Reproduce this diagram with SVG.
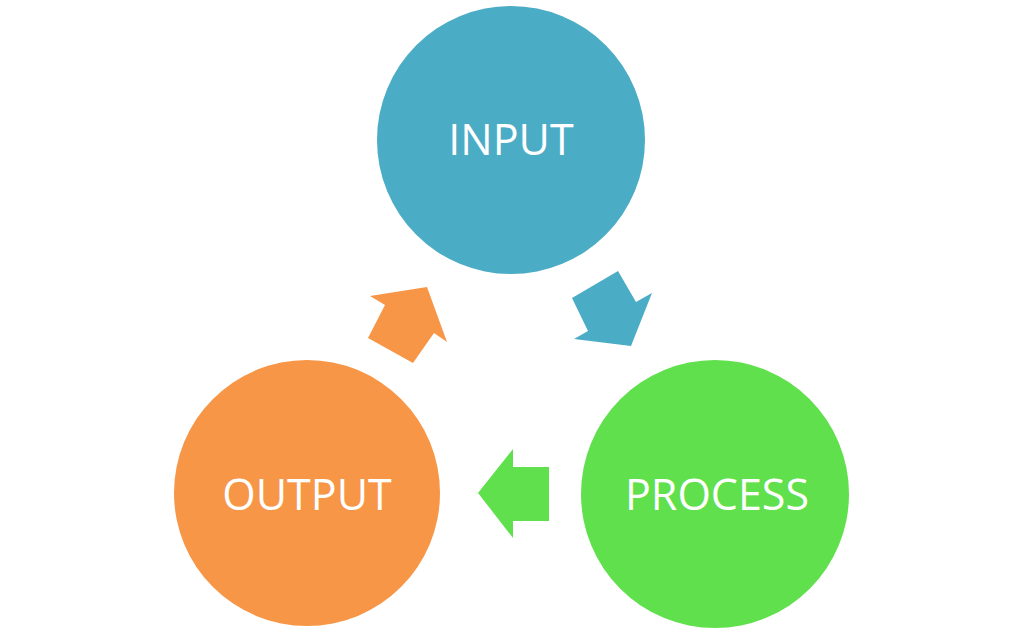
<svg xmlns="http://www.w3.org/2000/svg" width="1024" height="635" viewBox="0 0 1024 635">
<style>
.lbl{font-family:"Open Sans","Liberation Sans",sans-serif;font-size:43px;fill:#ffffff;text-anchor:middle}
.blue{fill:#4BACC6}.green{fill:#60E04C}.orange{fill:#F79646}
</style>
<rect width="1024" height="635" fill="#ffffff"/>
<g id="connectors">
<polygon class="blue" points="572,298 618,271 636,302 652,293 631,346 574,339 588,331"/>
<polygon class="green" points="478,493 513,449 513,467 549,467 549,521 513,521 513,538"/>
<polygon class="orange" points="427,287 447,342 434,333 413,363 368,338 385,305 370,296"/>
</g>
<g id="input"><circle class="blue" cx="511" cy="140" r="134"/><text class="lbl" x="511" y="155">INPUT</text></g>
<g id="process"><circle class="green" cx="715" cy="494" r="134"/><text class="lbl" x="717" y="510">PROCESS</text></g>
<g id="output"><circle class="orange" cx="307" cy="493" r="133"/><text class="lbl" x="307" y="510">OUTPUT</text></g>
</svg>
